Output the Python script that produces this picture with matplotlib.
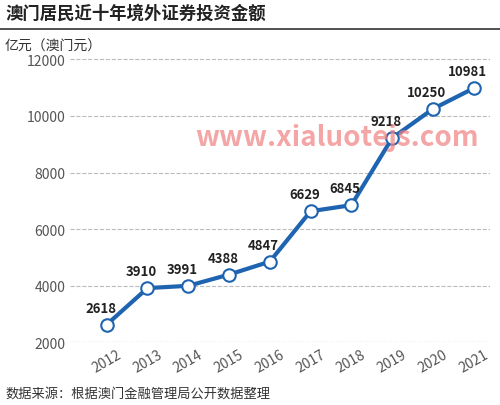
import matplotlib.pyplot as plt

plt.rcParams['font.family'] = ['Noto Sans CJK SC', 'DejaVu Sans']

years = ['2012', '2013', '2014', '2015', '2016', '2017', '2018', '2019', '2020', '2021']
values = [2618, 3910, 3991, 4388, 4847, 6629, 6845, 9218, 10250, 10981]
yticks = [2000, 4000, 6000, 8000, 10000, 12000]

fig = plt.figure(figsize=(5.0, 4.06), dpi=100)
ax = fig.add_axes([0.14, 0.155, 0.84, 0.71])

blue = '#1f64b0'
x = list(range(len(years)))
ax.plot(x, values, color=blue, lw=3, zorder=3)
ax.plot(x, values, 'o', ms=9, mfc='white', mec=blue, mew=1.5, zorder=4)
for xi, v in zip(x, values):
    ax.text(xi - 0.15, v + 350, str(v), ha='center', va='bottom', fontsize=9.5,
            fontweight='bold', color='#222222', zorder=5)

ax.set_ylim(2000, 12200)
ax.set_xlim(-0.9, 9.4)
ax.set_yticks(yticks)
ax.set_xticks(x)
ax.set_xticklabels(years, rotation=30, ha='center')
ax.tick_params(axis='both', length=0, labelsize=10, colors='#555555')
ax.grid(axis='y', ls='--', color='#bbbbbb', lw=0.8)
for s in ax.spines.values():
    s.set_visible(False)
ax.axhline(2000, color='#bbbbbb', lw=0.8, ls='--')

fig.text(0.01, 0.955, '澳门居民近十年境外证券投资金额', fontsize=12.5, fontweight='bold', color='#222222')
fig.add_artist(plt.Line2D([0, 1], [0.925, 0.925], color='#333333', lw=1.2))
fig.text(0.01, 0.875, '亿元（澳门元）', fontsize=10, color='#333333')
fig.text(0.01, 0.02, '数据来源：根据澳门金融管理局公开数据整理', fontsize=9.5, color='#333333')
fig.text(0.39, 0.64, 'www.xialuotejs.com', fontsize=20, color='#f08080', alpha=0.7,
         fontweight='bold', zorder=10)

fig.savefig('out.png', dpi=100, facecolor='white')
